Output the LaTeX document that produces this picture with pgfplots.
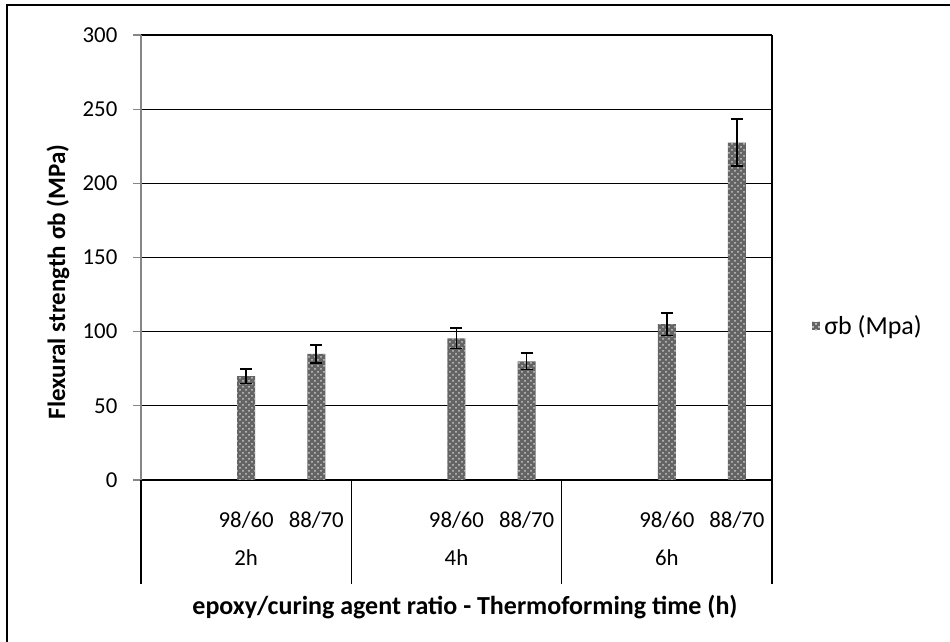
\documentclass[border=0pt]{standalone}
\usepackage{pgfplots}
\pgfplotsset{compat=1.18}
\usepackage{fontspec}
\setmainfont{Carlito}
\usetikzlibrary{patterns}
\definecolor{axgray}{RGB}{134,134,134}
\definecolor{barg}{RGB}{100,100,100}
\definecolor{dotg}{RGB}{200,200,200}
\newcommand{\tickfont}{\fontsize{11.4}{13}\selectfont}
\begin{document}
\begin{tikzpicture}
\useasboundingbox (-70.5pt,-81pt) rectangle (404.5pt,240pt);
\draw[black, line width=0.8pt] (-67pt,-81pt) -- (-67pt,237.5pt) -- (404.5pt,237.5pt);
\begin{axis}[
  at={(0,0)}, anchor=south west,
  scale only axis, width=315.5pt, height=222.5pt,
  xmin=-0.5, xmax=8.5, ymin=0, ymax=300,
  clip=false,
  ytick={0,50,...,300},
  xtick={0,...,8},
  xticklabels={,98/60,88/70,,98/60,88/70,,98/60,88/70},
  x tick style={draw=none},
  tick label style={font=\tickfont},
  xticklabel style={anchor=center, yshift=-16pt},
  yticklabel style={xshift=-4.3pt},
  /pgf/number format/assume math mode=true,
  ymajorgrids, grid style={black, line width=0.6pt},
  axis line style={draw=none},
  y tick style={axgray, line width=0.6pt},
  tick align=outside, major tick length=4pt,
  ytick pos=left, xtick pos=bottom,
  ylabel={Flexural strength σb (MPa)},
  ylabel style={font=\fontsize{12.5}{15}\selectfont\bfseries, at={(axis description cs:-0.1315,0.445)}, anchor=center},
  xlabel={epoxy/curing agent ratio - Thermoforming time (h)},
  xlabel style={font=\fontsize{13}{15}\selectfont\bfseries, at={(axis description cs:0.5135,-0.2854)}, anchor=center},
  legend style={at={(axis description cs:1.062,0.346)}, anchor=west, draw=none, fill=none, font=\fontsize{13}{15}\selectfont, inner sep=0pt},
  legend image code/.code={\fill[barg, postaction={pattern=crosshatch dots, pattern color=dotg}] (0pt,-2.2pt) rectangle (4.4pt,2.2pt);},
]
\addplot[ybar, bar width=9pt, draw=none, fill=barg,
  postaction={pattern=crosshatch dots, pattern color=dotg},
  error bars/.cd, y dir=both, y explicit,
  error bar style={line width=0.8pt, black},
  error mark options={rotate=90, mark size=3pt, line width=0.8pt, black}]
  coordinates {
  (1,70) +- (0,5)
  (2,85) +- (0,6)
  (4,95.5) +- (0,6.8)
  (5,80) +- (0,5.6)
  (7,105) +- (0,7.5)
  (8,227.5) +- (0,16)
  };
\addlegendentry{σb (Mpa)}
\draw[axgray, line width=0.8pt] (axis cs:-0.5,0) -- (axis cs:-0.5,300);
\draw[black, line width=0.6pt] (axis cs:8.5,300) -- (axis cs:8.5,0);
\draw[black, line width=0.6pt] (axis cs:-0.5,0) -- ([yshift=-52pt]axis cs:-0.5,0);
\draw[black, line width=0.6pt] (axis cs:2.5,0) -- ([yshift=-52pt]axis cs:2.5,0);
\draw[black, line width=0.6pt] (axis cs:5.5,0) -- ([yshift=-52pt]axis cs:5.5,0);
\draw[black, line width=0.6pt] (axis cs:8.5,0) -- ([yshift=-52pt]axis cs:8.5,0);
\node[font=\tickfont, anchor=center] at ([yshift=-39pt]axis cs:1,0) {2h};
\node[font=\tickfont, anchor=center] at ([yshift=-39pt]axis cs:4,0) {4h};
\node[font=\tickfont, anchor=center] at ([yshift=-39pt]axis cs:7,0) {6h};
\end{axis}
\end{tikzpicture}
\end{document}
